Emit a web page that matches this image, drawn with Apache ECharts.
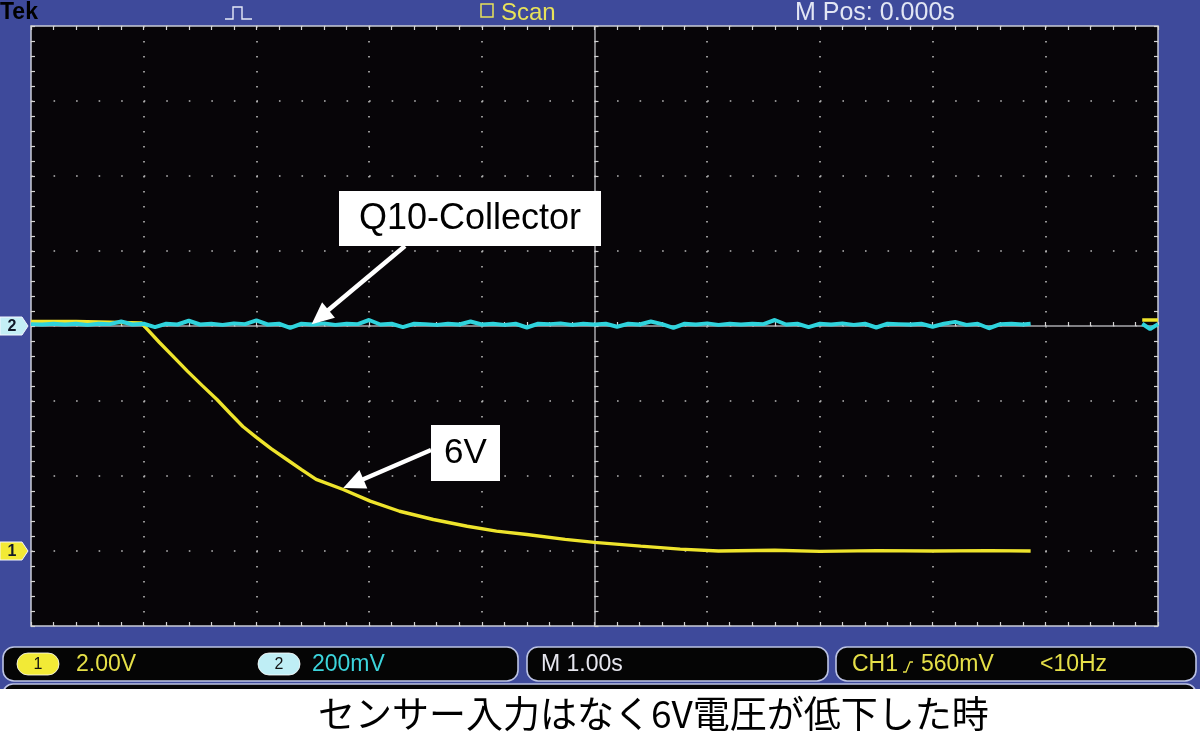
<!DOCTYPE html>
<html>
<head>
<meta charset="utf-8">
<script src="https://cdn.jsdelivr.net/npm/echarts@6/dist/echarts.min.js"></script>
<style>
html,body{margin:0;padding:0;background:#ffffff;}
#c{width:1200px;height:739px;}
</style>
</head>
<body>
<div id="c"></div>
<script>
// ---------------- data ----------------
// Horizontal: 1.00 s/div, 10 divisions, M Pos 0.000 s  -> -5 s .. +5 s
const timeRange = [-5, 5];
// CH1 (6V line): 2.00 V/div, ground marker 3 div below centre
const ch1Range = [-2, 14];
// CH2 (Q10 collector): 200 mV/div, ground marker at centre
const ch2Range = [-800, 800];

// CH1 trace [time s, volts]
const ch1Trace = [
  [-5.0, 6.12], [-4.6, 6.12], [-4.3, 6.1], [-4.02, 6.08], [-3.98, 5.95],
  [-3.86, 5.56], [-3.72, 5.13], [-3.61, 4.79], [-3.48, 4.41], [-3.35, 4.04],
  [-3.23, 3.66], [-3.12, 3.32], [-3.0, 3.03], [-2.87, 2.73], [-2.73, 2.44],
  [-2.6, 2.17], [-2.47, 1.91], [-2.23, 1.64], [-1.99, 1.33], [-1.73, 1.06],
  [-1.43, 0.84], [-1.13, 0.66], [-0.87, 0.53], [-0.6, 0.44], [-0.26, 0.31],
  [0.0, 0.23], [0.41, 0.13], [0.76, 0.05], [1.1, 0.0], [1.6, 0.02],
  [2.0, -0.01], [2.5, 0.01], [3.0, 0.0], [3.5, 0.01], [3.87, 0.0],
  [4.4, '-'],
  [4.86, 6.16], [5.0, 6.16]
];

// CH2 trace [time s, mV]
const ch2Trace = [
  [-5.0, 5], [-4.9, 4], [-4.8, 6], [-4.7, 4], [-4.6, 6], [-4.5, 3], [-4.4, 6], [-4.3, 5], [-4.2, 12], [-4.1, 4],
  [-4.0, 6], [-3.9, -3], [-3.8, 6], [-3.7, 4], [-3.6, 14], [-3.5, 4], [-3.4, 6], [-3.3, 3], [-3.2, 7], [-3.1, 5],
  [-3.0, 15], [-2.9, 4], [-2.8, 6], [-2.7, -5], [-2.6, 6], [-2.5, 4], [-2.4, 7], [-2.3, 3], [-2.2, 6], [-2.1, 5],
  [-2.0, 16], [-1.9, 4], [-1.8, 6], [-1.7, -3], [-1.6, 6], [-1.5, 5], [-1.4, 3], [-1.3, 6], [-1.2, 4], [-1.1, 12],
  [-1.0, 4], [-0.9, 6], [-0.8, 3], [-0.7, 6], [-0.6, -4], [-0.5, 6], [-0.4, 5], [-0.3, 7], [-0.2, 3], [-0.1, 6],
  [0.0, 4], [0.1, 6], [0.2, -2], [0.3, 6], [0.4, 4], [0.5, 12], [0.6, 5], [0.7, -5], [0.8, 6], [0.9, 4],
  [1.0, 7], [1.1, 3], [1.2, 6], [1.3, 4], [1.4, 6], [1.5, 5], [1.6, 16], [1.7, 4], [1.8, 6], [1.9, -3],
  [2.0, 6], [2.1, 4], [2.2, 7], [2.3, 3], [2.4, 6], [2.5, -4], [2.6, 6], [2.7, 5], [2.8, 4], [2.9, 6],
  [3.0, -2], [3.1, 6], [3.2, 11], [3.3, 3], [3.4, 6], [3.5, -6], [3.6, 5], [3.7, 6], [3.8, 4], [3.87, 6],
  [4.4, '-'],
  [4.86, 6], [4.93, -8], [5.0, 5]
];

// on-screen texts
const headerTexts = { brand: 'Tek', mode: 'Scan', mpos: 'M Pos: 0.000s' };
const ch1Scale = '2.00V';
const ch2Scale = '200mV';
const timeBase = 'M 1.00s';
const trigSource = 'CH1';
const trigLevel = '560mV';
const trigFreq = '<10Hz';
const labelQ10 = 'Q10-Collector';
const label6V = '6V';
const caption = 'センサー入力はなく6V電圧が低下した時';

// ---------------- style ----------------
const BLUE = '#3e4a9b';
const YELLOW = '#eee42c';
const CYAN = '#2fd3dc';
const GRID_DOT = '#b8b8b8';
const TICK = '#d4d4d4';
const SANS = '"Liberation Sans", Arial, sans-serif';

const G = { left: 31, top: 26, width: 1127, height: 600 };

function edgeAxis(extra) {
  return Object.assign({
    type: 'value',
    axisLine: { show: false, onZero: false },
    axisTick: { show: true, inside: true, length: 4, lineStyle: { color: TICK, width: 1.2 } },
    minorTick: { show: true, splitNumber: 5, length: 4, lineStyle: { color: TICK, width: 1.2 } },
    axisLabel: { show: false },
    splitLine: { show: false }
  }, extra);
}

const option = {
  animation: false,
  backgroundColor: 'transparent',
  grid: {
    left: G.left, top: G.top, width: G.width, height: G.height,
    show: true, backgroundColor: '#070508', borderColor: '#c9cbd6', borderWidth: 1.5
  },
  xAxis: [
    edgeAxis({ min: timeRange[0], max: timeRange[1], interval: 1, position: 'bottom',
      splitLine: { show: true, lineStyle: { color: GRID_DOT, width: 1.6, type: [1.6, 13.4] } } }),
    edgeAxis({ min: timeRange[0], max: timeRange[1], interval: 1, position: 'top' }),
    edgeAxis({ min: timeRange[0], max: timeRange[1], interval: 1, position: 'bottom',
      axisLine: { show: true, onZero: true, onZeroAxisIndex: 2, lineStyle: { color: '#a8a8ac', width: 1.5 } } })
  ],
  yAxis: [
    edgeAxis({ min: ch1Range[0], max: ch1Range[1], interval: 2, position: 'left',
      splitLine: { show: true, lineStyle: { color: GRID_DOT, width: 1.6, type: [1.6, 20.94] } } }),
    edgeAxis({ min: ch2Range[0], max: ch2Range[1], interval: 200, position: 'right' }),
    edgeAxis({ min: -4, max: 4, interval: 1, position: 'left',
      axisLine: { show: true, onZero: true, onZeroAxisIndex: 0, lineStyle: { color: '#a8a8ac', width: 1.5 } } })
  ],
  series: [
    {
      name: 'CH1', type: 'line', xAxisIndex: 0, yAxisIndex: 0, data: ch1Trace,
      symbol: 'none', showSymbol: false, connectNulls: false, z: 3,
      lineStyle: { color: YELLOW, width: 3.4 }, itemStyle: { color: YELLOW }
    },
    {
      name: 'CH2', type: 'line', xAxisIndex: 0, yAxisIndex: 1, data: ch2Trace,
      symbol: 'none', showSymbol: false, connectNulls: false, z: 4,
      lineStyle: { color: CYAN, width: 4 }, itemStyle: { color: CYAN }
    }
  ]
};

const chart = echarts.init(document.getElementById('c'), null, { renderer: 'canvas' });
chart.setOption(option);

// positions tied to the axes
const xPix = v => chart.convertToPixel({ xAxisIndex: 0 }, v);
const y1Pix = v => chart.convertToPixel({ yAxisIndex: 0 }, v);
const y2Pix = v => chart.convertToPixel({ yAxisIndex: 1 }, v);

const ch2Gnd = y2Pix(0);
const ch1Gnd = y1Pix(0);

function txt(text, x, y, font, fill, align, z) {
  return { type: 'text', z: z || 20, style: {
    text: text, x: x, y: y, font: font, fill: fill,
    textAlign: align || 'left', align: align || 'left',
    textVerticalAlign: 'middle', verticalAlign: 'middle'
  } };
}
function marker(label, y, fill) {
  return [
    { type: 'polygon', z: 20, shape: { points: [[0, y - 9], [22, y - 9], [28, y], [22, y + 9], [0, y + 9]] },
      style: { fill: fill, stroke: '#f4f6ff', lineWidth: 1 } },
    txt(label, 12, y + 1, 'bold 16px ' + SANS, '#101828', 'center')
  ];
}
function arrow(x0, y0, x1, y1) {
  const dx = x1 - x0, dy = y1 - y0, L = Math.sqrt(dx * dx + dy * dy);
  const ux = dx / L, uy = dy / L, nx = -uy, ny = ux;
  const hl = 22, hw = 10;
  const bx = x1 - ux * hl, by = y1 - uy * hl;
  return [
    { type: 'line', z: 100, shape: { x1: x0, y1: y0, x2: bx + ux * 2, y2: by + uy * 2 },
      style: { stroke: '#ffffff', lineWidth: 4.5 } },
    { type: 'polygon', z: 100, shape: { points: [[x1, y1], [bx + nx * hw, by + ny * hw], [bx - nx * hw, by - ny * hw]] },
      style: { fill: '#ffffff' } }
  ];
}
function statusBox(x, w) {
  return { type: 'rect', z: 10, shape: { x: x, y: 647, width: w, height: 34, r: 11 },
    style: { fill: '#050505', stroke: '#bcc3e4', lineWidth: 1.6 } };
}
function pill(label, x, fill) {
  return [
    { type: 'rect', z: 12, shape: { x: x, y: 653, width: 42, height: 22, r: 11 },
      style: { fill: fill, stroke: '#ffffff', lineWidth: 0.8 } },
    txt(label, x + 21, 664.5, '16px ' + SANS, '#111', 'center', 13)
  ];
}

const q10Tip = [xPix(-2.51), y2Pix(5)];
const v6Tip = [xPix(-2.23), y1Pix(1.68)];

let els = [
  // backgrounds
  { type: 'rect', z: -100, shape: { x: 0, y: 0, width: 1200, height: 690 }, style: { fill: BLUE } },
  { type: 'rect', z: -90, shape: { x: 3, y: 684, width: 1193, height: 30, r: 10 },
    style: { fill: '#050505', stroke: '#bcc3e4', lineWidth: 1.6 } },
  { type: 'rect', z: -80, shape: { x: 0, y: 689, width: 1200, height: 50 }, style: { fill: '#ffffff' } },
  // header
  txt(headerTexts.brand, 0, 13, 'bold 23px ' + SANS, '#000000'),
  { type: 'polyline', z: 20, shape: { points: [[225, 19], [233, 19], [233, 7], [242, 7], [242, 19], [252, 19]] },
    style: { stroke: '#e6eaf8', lineWidth: 1.4, fill: 'none' } },
  { type: 'rect', z: 20, shape: { x: 481, y: 4, width: 12, height: 13 },
    style: { fill: 'none', stroke: '#e8e25a', lineWidth: 1.5 } },
  txt(headerTexts.mode, 501, 13, '24px ' + SANS, '#e8e25a'),
  txt(headerTexts.mpos, 795, 13, '25px ' + SANS, '#e2e6f4'),
  // status bar
  statusBox(3, 515), statusBox(527, 301), statusBox(836, 360),
  txt(ch1Scale, 76, 664.5, '23px ' + SANS, '#e6e048', 'left', 13),
  txt(ch2Scale, 312, 664.5, '23px ' + SANS, '#3cd4dc', 'left', 13),
  txt(timeBase, 541, 664.5, '23px ' + SANS, '#e6e6ee', 'left', 13),
  txt(trigSource, 852, 664.5, '23px ' + SANS, '#e6e048', 'left', 13),
  { type: 'polyline', z: 13, shape: { points: [[903, 672], [906, 672], [910, 662], [913, 662]] },
    style: { stroke: '#e6e048', lineWidth: 1.3, fill: 'none' } },
  txt(trigLevel, 921, 664.5, '23px ' + SANS, '#e6e048', 'left', 13),
  txt(trigFreq, 1040, 664.5, '23px ' + SANS, '#e6e048', 'left', 13),
  // caption
  txt(caption, 318, 714, '37px "Noto Sans CJK JP", sans-serif', '#000000', 'left', 20),
  // annotations
  { type: 'rect', z: 100, shape: { x: 339, y: 191, width: 262, height: 55 }, style: { fill: '#ffffff' } },
  txt(labelQ10, 470, 219, '36px ' + SANS, '#000000', 'center', 101),
  { type: 'rect', z: 100, shape: { x: 431, y: 425, width: 69, height: 56 }, style: { fill: '#ffffff' } },
  txt(label6V, 465.5, 453, '35px ' + SANS, '#000000', 'center', 101)
];
els = els.concat(pill('1', 17, '#f2ea36'), pill('2', 258, '#bfeef5'));
els = els.concat(marker('2', ch2Gnd, '#c4eff6'), marker('1', ch1Gnd, '#f2ea36'));
els = els.concat(arrow(405, 246, q10Tip[0], q10Tip[1]), arrow(431, 450, v6Tip[0], v6Tip[1]));

chart.setOption({ graphic: { elements: els } });
</script>
</body>
</html>
